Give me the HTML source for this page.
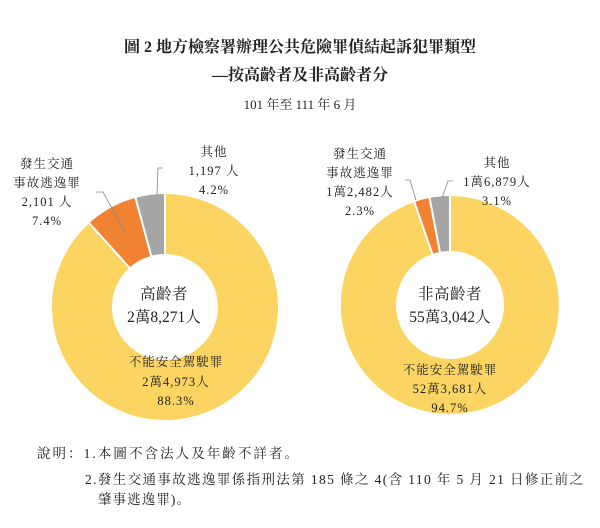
<!DOCTYPE html>
<html><head><meta charset="utf-8"><style>
body{margin:0;background:#fff;width:600px;height:523px;overflow:hidden}
svg text{font-family:"Liberation Serif","Noto Serif CJK SC","Noto Sans CJK TC",serif;fill:#222}
</style></head><body>
<svg width="600" height="523" viewBox="0 0 600 523">
<text x="300" y="52" text-anchor="middle" font-size="16" font-weight="bold">圖 2  地方檢察署辦理公共危險罪偵結起訴犯罪類型</text>
<text x="300" y="80" text-anchor="middle" font-size="16" font-weight="bold">—按高齡者及非高齡者分</text>
<text x="300" y="109" text-anchor="middle" font-size="13">101 年至 111 年 6 月</text>

<g stroke="#fff" stroke-width="2">
<path d="M165,193 A114,114 0 1 1 88.6,222.4 L130.1,268.4 A52,52 0 1 0 165,255 Z" fill="#fcd462"/>
<path d="M88.6,222.4 A114,114 0 0 1 135.3,196.9 L151.5,256.8 A52,52 0 0 0 130.1,268.4 Z" fill="#f08232"/>
<path d="M135.3,196.9 A114,114 0 0 1 165,193 L165,255 A52,52 0 0 0 151.5,256.8 Z" fill="#a5a5a5"/>
<path d="M450,195 A110,110 0 1 1 414,201 L432.7,254.9 A53,53 0 1 0 450,252 Z" fill="#fcd462"/>
<path d="M414,201 A110,110 0 0 1 429.4,196.9 L440.1,252.9 A53,53 0 0 0 432.7,254.9 Z" fill="#f08232"/>
<path d="M429.4,196.9 A110,110 0 0 1 450,195 L450,252 A53,53 0 0 0 440.1,252.9 Z" fill="#a5a5a5"/>
</g>
<g stroke="#888" fill="none" stroke-width="0.8">
<polyline points="96,192 103,192 125,232"/>
<polyline points="163,168 158,168 157,195"/>
<polyline points="405,180 410,180 416,200"/>
<polyline points="453,181 448,181 442,198"/>
</g>
<g font-size="12.5" text-anchor="middle" letter-spacing="1">
<text x="214" y="156">其他</text><text x="214" y="175">1,197 人</text><text x="214" y="194">4.2%</text>
<text x="47" y="168">發生交通</text><text x="47" y="187">事故逃逸罪</text><text x="47" y="206">2,101 人</text><text x="47" y="225">7.4%</text>
<text x="164" y="299" font-size="15.5" letter-spacing="0.5">高齡者</text><text x="164" y="322" font-size="15.5" letter-spacing="0">2萬8,271人</text>
<text x="176" y="366">不能安全駕駛罪</text><text x="176" y="386">2萬4,973人</text><text x="176" y="405">88.3%</text>
<text x="497" y="167">其他</text><text x="497" y="186">1萬6,879人</text><text x="497" y="205">3.1%</text>
<text x="360" y="158">發生交通</text><text x="360" y="177">事故逃逸罪</text><text x="360" y="196">1萬2,482人</text><text x="360" y="215">2.3%</text>
<text x="450" y="299" font-size="15.5" letter-spacing="0.5">非高齡者</text><text x="450" y="322" font-size="15.5" letter-spacing="0">55萬3,042人</text>
<text x="450" y="374">不能安全駕駛罪</text><text x="450" y="393">52萬3,681人</text><text x="450" y="412">94.7%</text>
</g>
<g font-size="13.5">
<text x="37" y="458" textLength="261" lengthAdjust="spacing">說明：1.本圖不含法人及年齡不詳者。</text>
<text x="85" y="484" textLength="498" lengthAdjust="spacing">2.發生交通事故逃逸罪係指刑法第 185 條之 4(含 110 年 5 月 21 日修正前之</text>
<text x="98" y="504" textLength="92" lengthAdjust="spacing">肇事逃逸罪)。</text>
</g>
</svg>
</body></html>
